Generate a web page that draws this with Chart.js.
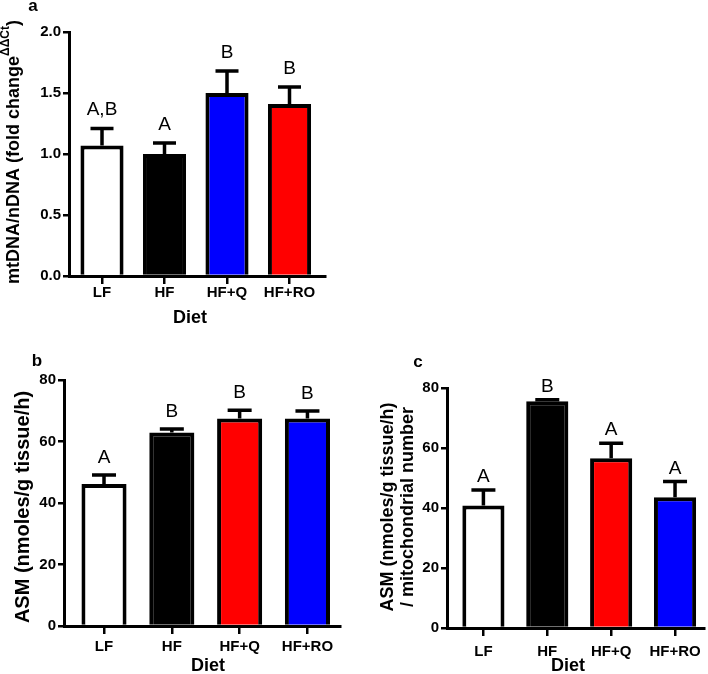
<!DOCTYPE html>
<html>
<head>
<meta charset="utf-8">
<script src="https://cdn.jsdelivr.net/npm/chart.js@4"></script>
<style>
  html, body { margin: 0; padding: 0; background: #fff; }
  body { width: 708px; height: 674px; position: relative; overflow: hidden; }
  canvas { position: absolute; }
</style>
</head>
<body>
<canvas id="chartA" width="340" height="330" style="left:0px;top:0px"></canvas>
<canvas id="chartB" width="350" height="344" style="left:0px;top:330px"></canvas>
<canvas id="chartC" width="348" height="344" style="left:360px;top:330px"></canvas>
<script>
const categories = ["LF", "HF", "HF+Q", "HF+RO"];

// panel a: mtDNA/nDNA
const mtdnaMeans = [1.07, 1.00, 1.50, 1.41];
const mtdnaErrors = [0.14, 0.09, 0.18, 0.14];
const mtdnaLetters = ["A,B", "A", "B", "B"];
const mtdnaColors = ["#ffffff", "#000000", "#0000ff", "#ff0000"];
const mtdnaTicks = [0, 0.5, 1.0, 1.5, 2.0];

// panel b: ASM per tissue
const asmMeans = [46.2, 62.9, 67.5, 67.5];
const asmErrors = [2.9, 1.2, 2.7, 2.4];
const asmLetters = ["A", "B", "B", "B"];
const asmColors = ["#ffffff", "#000000", "#ff0000", "#0000ff"];

// panel c: ASM per mitochondrial number
const asmMitoMeans = [40.8, 75.6, 56.6, 43.6];
const asmMitoErrors = [5.2, 0.5, 5.0, 5.2];
const asmMitoLetters = ["A", "B", "A", "A"];
const asmMitoColors = ["#ffffff", "#000000", "#ff0000", "#0000ff"];

const asmTicks = [0, 20, 40, 60, 80];

const FONT = "'Liberation Sans', Arial, Helvetica, sans-serif";

// draws rotated text made of several parts (for the superscript)
function drawRotated(ctx, parts, x, cy) {
  ctx.save();
  ctx.translate(x, cy);
  ctx.rotate(-Math.PI / 2);
  ctx.textAlign = "left";
  ctx.textBaseline = "middle";
  let total = 0;
  parts.forEach(p => { ctx.font = p.font; p.w = ctx.measureText(p.text).width; total += p.w; });
  let pos = -total / 2;
  parts.forEach(p => {
    ctx.font = p.font;
    ctx.fillText(p.text, pos, p.dy || 0);
    pos += p.w;
  });
  ctx.restore();
}

const annotate = {
  id: "annotate",
  afterDatasetsDraw(chart, args, opts) {
    const ctx = chart.ctx;
    const yScale = chart.scales.y;
    const meta = chart.getDatasetMeta(0);
    const data = chart.data.datasets[0].data;
    ctx.save();
    ctx.strokeStyle = "#000";
    ctx.fillStyle = "#000";
    ctx.lineWidth = 3.5;
    data.forEach((d, i) => {
      const bar = meta.data[i];
      const y0 = yScale.getPixelForValue(d.y);
      const y1 = yScale.getPixelForValue(d.y + opts.errors[i]);
      ctx.beginPath();
      ctx.moveTo(bar.x, y0);
      ctx.lineTo(bar.x, y1);
      ctx.moveTo(bar.x - opts.cap / 2, y1);
      ctx.lineTo(bar.x + opts.cap / 2, y1);
      ctx.stroke();
      ctx.font = "19px " + FONT;
      ctx.textAlign = "center";
      ctx.textBaseline = "alphabetic";
      ctx.fillText(opts.letters[i], bar.x, y1 - opts.gap);
    });
    ctx.restore();
  },
  afterDraw(chart, args, opts) {
    const ctx = chart.ctx;
    ctx.save();
    ctx.fillStyle = "#000";
    ctx.textAlign = "center";
    ctx.textBaseline = "middle";
    ctx.font = "bold 17px " + FONT;
    ctx.fillText(opts.panel, opts.panelX, opts.panelY);
    ctx.font = "bold 18px " + FONT;
    ctx.fillText("Diet", opts.dietX, opts.dietY);
    opts.yTitles.forEach(t => drawRotated(ctx, t.parts, t.x, opts.yTitleY));
    ctx.restore();
  }
};

function makePanel(id, cfg) {
  return new Chart(document.getElementById(id), {
    type: "bar",
    data: {
      datasets: [{
        data: cfg.means.map((v, i) => ({ x: i, y: v })),
        backgroundColor: cfg.colors,
        borderColor: "#000",
        borderWidth: 4,
        barPercentage: cfg.barPct,
        categoryPercentage: 1
      }]
    },
    options: {
      responsive: false,
      animation: false,
      devicePixelRatio: 1,
      layout: { padding: cfg.padding },
      plugins: {
        legend: { display: false },
        tooltip: { enabled: false },
        annotate: cfg.annotate
      },
      scales: {
        x: {
          type: "linear",
          min: cfg.xMin,
          max: cfg.xMax,
          offset: false,
          z: 1,
          afterBuildTicks: s => { s.ticks = categories.map((c, i) => ({ value: i })); },
          afterFit: s => { s.height = cfg.xHeight; },
          ticks: {
            callback: v => categories[v],
            font: { family: FONT, size: 15, weight: "bold" },
            color: "#000",
            padding: cfg.xPad,
            maxRotation: 0,
            autoSkip: false
          },
          grid: { offset: false, drawOnChartArea: false, drawTicks: true, tickLength: 8, color: "#000", lineWidth: 2.5 },
          border: { color: "#000", width: 3 }
        },
        y: {
          min: 0,
          max: cfg.yMax,
          z: 1,
          afterBuildTicks: s => { s.ticks = cfg.yTicks.map(v => ({ value: v })); },
          afterFit: s => { s.width = cfg.yWidth; },
          ticks: {
            callback: cfg.yFmt,
            font: { family: FONT, size: 15, weight: "bold" },
            color: "#000",
            padding: 2
          },
          grid: { drawOnChartArea: false, drawTicks: true, tickLength: 6, color: "#000", lineWidth: 2.5 },
          border: { color: "#000", width: 3 }
        }
      }
    },
    plugins: [annotate]
  });
}

makePanel("chartA", {
  means: mtdnaMeans, colors: mtdnaColors, barPct: 0.69,
  padding: { left: 0, top: 32, right: 15, bottom: 0 },
  yWidth: 69, xHeight: 54, xMin: -0.528, xMax: 3.568, xPad: 0,
  yMax: 2, yTicks: mtdnaTicks, yFmt: v => v.toFixed(1),
  annotate: {
    errors: mtdnaErrors, letters: mtdnaLetters, cap: 23, gap: 13,
    panel: "a", panelX: 33, panelY: 6, dietX: 190, dietY: 318, yTitleY: 152,
    yTitles: [{ x: 14, parts: [
      { text: "mtDNA/nDNA (fold change", font: "bold 18px " + FONT },
      { text: "\u0394\u0394Ct", font: "bold 12px " + FONT, dy: -8 },
      { text: ")", font: "bold 18px " + FONT }
    ] }]
  }
});

makePanel("chartB", {
  means: asmMeans, colors: asmColors, barPct: 0.665,
  padding: { left: 0, top: 50, right: 10, bottom: 0 },
  yWidth: 64, xHeight: 48, xMin: -0.59, xMax: 3.48, xPad: 4,
  yMax: 80, yTicks: asmTicks, yFmt: v => String(v),
  annotate: {
    errors: asmErrors, letters: asmLetters, cap: 24, gap: 12,
    panel: "b", panelX: 37, panelY: 31, dietX: 208, dietY: 336, yTitleY: 177,
    yTitles: [{ x: 23, parts: [
      { text: "ASM (nmoles/g tissue/h)", font: "bold 20px " + FONT }
    ] }]
  }
});

makePanel("chartC", {
  means: asmMitoMeans, colors: asmMitoColors, barPct: 0.66,
  padding: { left: 0, top: 58, right: 3, bottom: 0 },
  yWidth: 87, xHeight: 46, xMin: -0.57, xMax: 3.45, xPad: 7,
  yMax: 80, yTicks: asmTicks, yFmt: v => String(v),
  annotate: {
    errors: asmMitoErrors, letters: asmMitoLetters, cap: 24, gap: 8,
    panel: "c", panelX: 58, panelY: 32, dietX: 208, dietY: 336, yTitleY: 177,
    yTitles: [
      { x: 28, parts: [{ text: "ASM (nmoles/g tissue/h)", font: "bold 18px " + FONT }] },
      { x: 48, parts: [{ text: "/ mitochondrial number", font: "bold 18px " + FONT }] }
    ]
  }
});
</script>
</body>
</html>
